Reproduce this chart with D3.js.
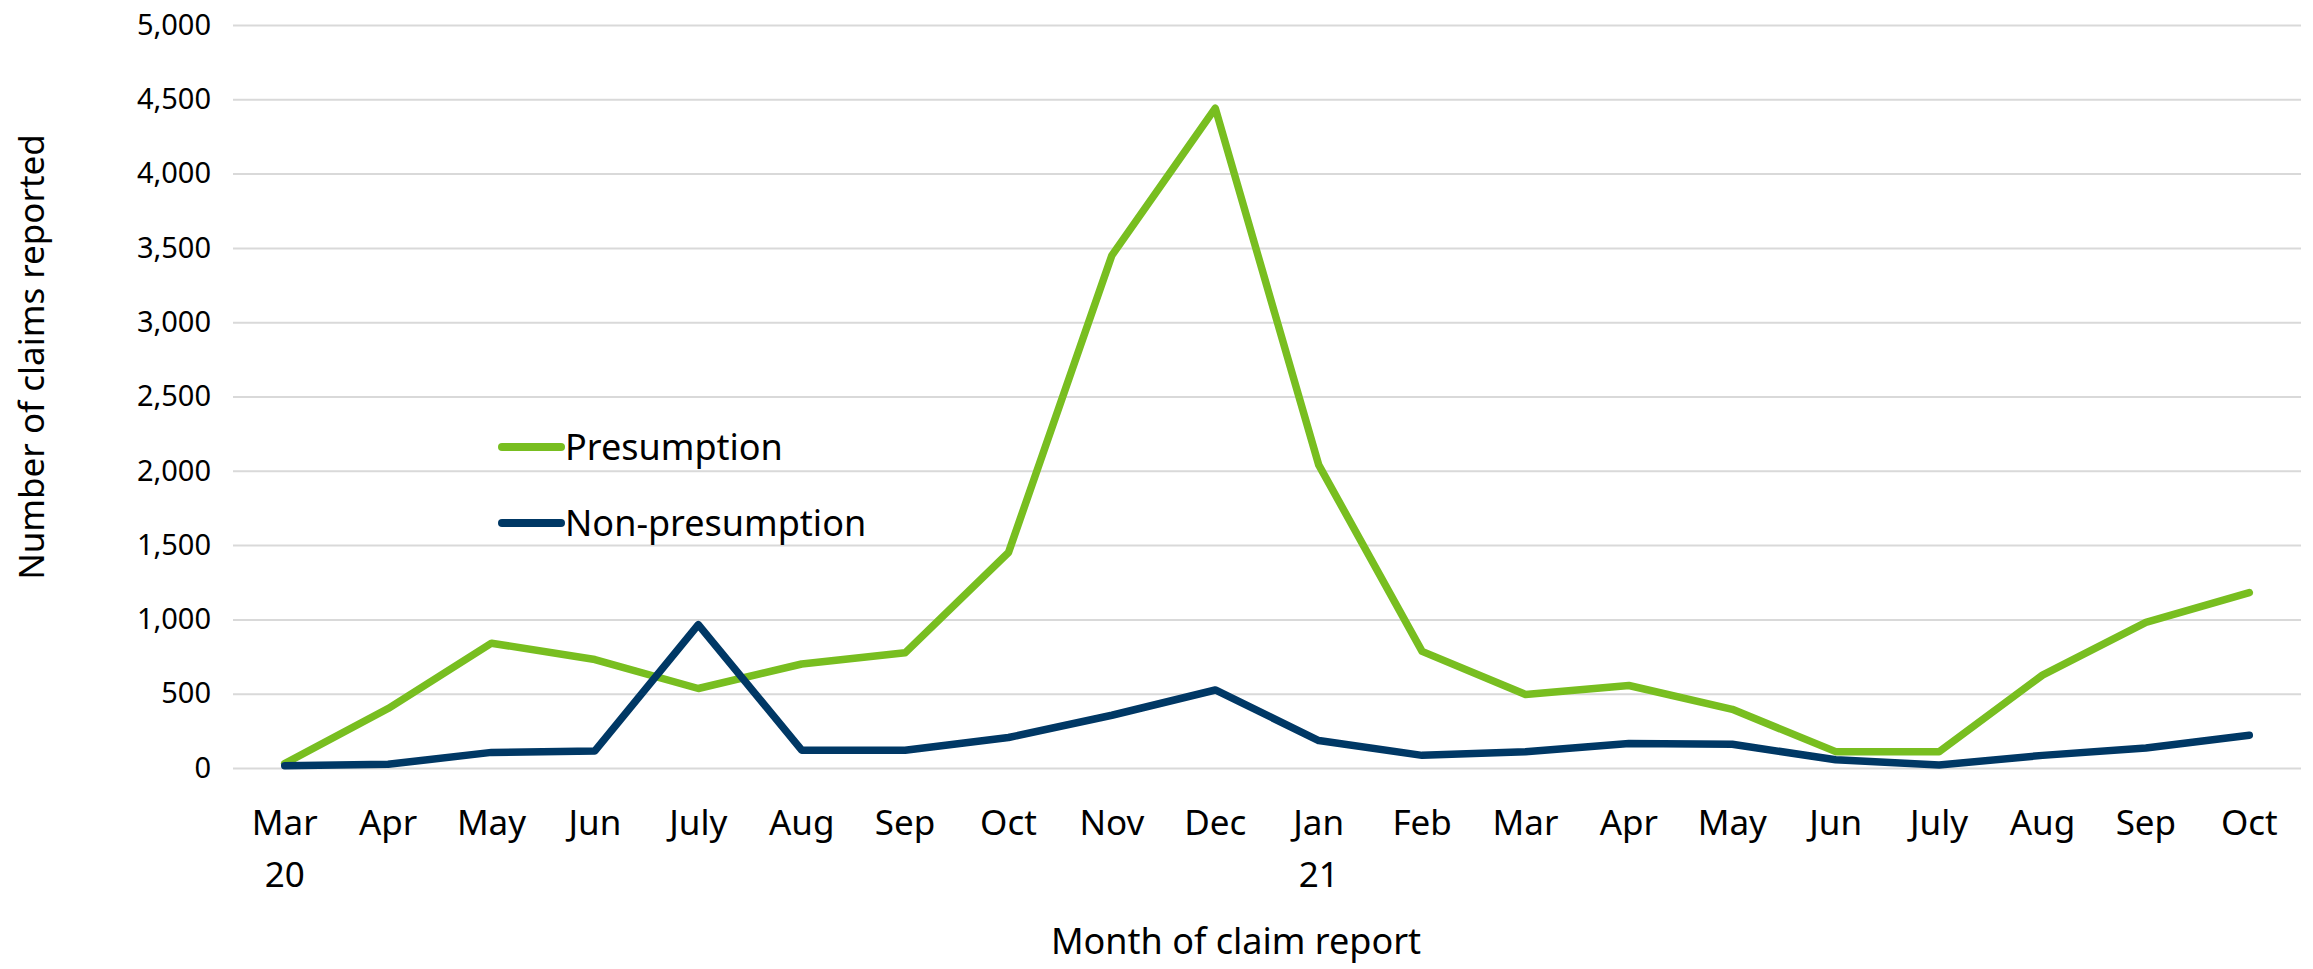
<!DOCTYPE html>
<html>
<head>
<meta charset="utf-8">
<script src="https://cdn.jsdelivr.net/npm/d3@7"></script>
<style>
  body { margin: 0; background: #fff; }
</style>
</head>
<body>
<div id="chart"></div>
<script>
// month labels (second line holds the year, only where it changes)
var months = ["Mar", "Apr", "May", "Jun", "July", "Aug", "Sep", "Oct", "Nov", "Dec",
              "Jan", "Feb", "Mar", "Apr", "May", "Jun", "July", "Aug", "Sep", "Oct"];
var years = ["20", "", "", "", "", "", "", "", "", "", "21", "", "", "", "", "", "", "", "", ""];

var presumption = [30, 400, 840, 730, 535, 700, 775, 1450, 3450, 4440,
                   2040, 785, 495, 555, 395, 110, 110, 625, 980, 1180];
var nonPresumption = [15, 25, 105, 115, 965, 120, 120, 205, 355, 525,
                      185, 85, 110, 165, 160, 55, 20, 85, 135, 220];

var yTicks = [0, 500, 1000, 1500, 2000, 2500, 3000, 3500, 4000, 4500, 5000];

var seriesNames = ["Presumption", "Non-presumption"];
var seriesColors = ["#78be20", "#003865"];

var width = 2313, height = 969;
var font = "'Noto Sans', sans-serif";

var svg = d3.select("#chart")
    .append("svg")
    .attr("width", width)
    .attr("height", height);

var x = d3.scaleBand()
    .domain(d3.range(months.length))
    .range([233, 2301])
    .padding(0);

var y = d3.scaleLinear()
    .domain([0, 5000])
    .range([768, 25]);

// gridlines + y tick labels
var yAxis = svg.append("g")
    .attr("transform", "translate(" + 233 + ",0)")
    .call(d3.axisLeft(y)
        .tickValues(yTicks)
        .tickFormat(d3.format(","))
        .tickSize(-(2301 - 233))
        .tickPadding(22));
yAxis.select(".domain").remove();
yAxis.selectAll(".tick line")
    .attr("stroke", "#d9d9d9")
    .attr("stroke-width", 2);
yAxis.selectAll(".tick text")
    .attr("font-family", font)
    .attr("font-size", 29)
    .attr("fill", "#000");

// x labels, two lines each
var xLab = svg.append("g")
    .selectAll("text")
    .data(months)
    .enter().append("text")
    .attr("x", function(d, i) { return x(i) + x.bandwidth() / 2; })
    .attr("y", 835)
    .attr("text-anchor", "middle")
    .attr("font-family", font)
    .attr("font-size", 35)
    .attr("fill", "#000");
xLab.append("tspan")
    .attr("x", function(d, i) { return x(i) + x.bandwidth() / 2; })
    .text(function(d) { return d; });
xLab.append("tspan")
    .attr("x", function(d, i) { return x(i) + x.bandwidth() / 2; })
    .attr("dy", 52)
    .text(function(d, i) { return years[i]; });

var line = d3.line()
    .x(function(d, i) { return x(i) + x.bandwidth() / 2; })
    .y(function(d) { return y(d); });

// presumption drawn first so the navy line sits on top
[presumption, nonPresumption].forEach(function(vals, k) {
    svg.append("path")
        .datum(vals)
        .attr("d", line)
        .attr("fill", "none")
        .attr("stroke", seriesColors[k])
        .attr("stroke-width", 7.5)
        .attr("stroke-linejoin", "round")
        .attr("stroke-linecap", "round");
});

// legend
var legend = svg.append("g")
    .selectAll("g")
    .data(seriesNames)
    .enter().append("g")
    .attr("transform", function(d, i) { return "translate(502," + (447 + i * 76) + ")"; });
legend.append("line")
    .attr("x1", 0).attr("x2", 59)
    .attr("y1", 0).attr("y2", 0)
    .attr("stroke", function(d, i) { return seriesColors[i]; })
    .attr("stroke-width", 8)
    .attr("stroke-linecap", "round");
legend.append("text")
    .attr("x", 63)
    .attr("y", 0)
    .attr("dy", "0.35em")
    .attr("font-family", font)
    .attr("font-size", 36)
    .attr("fill", "#000")
    .text(function(d) { return d; });

// axis titles
svg.append("text")
    .attr("transform", "translate(32,357) rotate(-90)")
    .attr("text-anchor", "middle")
    .attr("dy", "0.35em")
    .attr("font-family", font)
    .attr("font-size", 35)
    .attr("fill", "#000")
    .text("Number of claims reported");

svg.append("text")
    .attr("x", 1236)
    .attr("y", 941)
    .attr("dy", "0.35em")
    .attr("text-anchor", "middle")
    .attr("font-family", font)
    .attr("font-size", 36)
    .attr("fill", "#000")
    .text("Month of claim report");
</script>
</body>
</html>
